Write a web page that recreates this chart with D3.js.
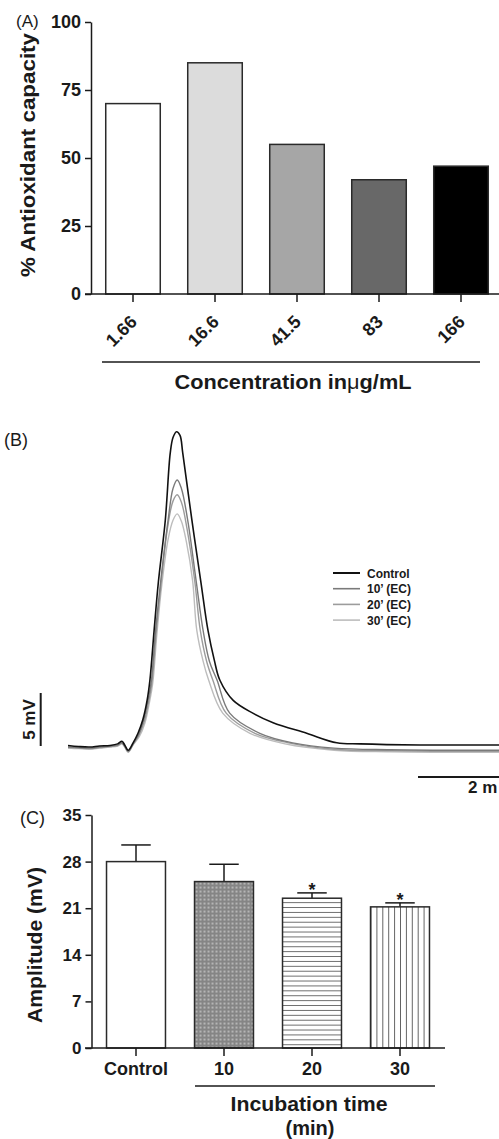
<!DOCTYPE html>
<html>
<head>
<meta charset="utf-8">
<script src="https://cdn.jsdelivr.net/npm/d3@7"></script>
<style>
  body { margin: 0; background: #fff; }
  svg { display: block; font-family: "Liberation Sans", Arial, Helvetica, sans-serif; }
</style>
</head>
<body>
<script>
// ---------- Data ----------
// Panel A
const concLabels = ["1.66", "16.6", "41.5", "83", "166"];
const antioxValues = [70, 85, 55, 42, 47];
const aTicks = [0, 25, 50, 75, 100];

// Panel B traces: [time (ms), voltage (mV)]
const controlTrace = [[0,0.05],[0.15,-0.05],[0.31,-0.1],[0.45,0.0],[0.6,0.05],[0.71,0.2],[0.77,0.45],[0.81,0.1],[0.86,-0.4],[0.93,0.3],[1.0,1.2],[1.07,2.5],[1.13,4.3],[1.17,6.2],[1.23,10.9],[1.29,15.4],[1.39,21.3],[1.46,27.6],[1.50,29.1],[1.55,29.65],[1.60,29.3],[1.64,27.6],[1.77,21.3],[1.90,15.4],[2.00,10.9],[2.09,8.1],[2.17,6.2],[2.36,4.3],[2.64,3.1],[2.93,2.2],[3.41,1.2],[3.84,0.3],[4.17,0.2],[5.03,0.1],[6.2,0.1]];
const ec10Trace = [[0,-0.1],[0.15,-0.15],[0.31,-0.2],[0.45,-0.1],[0.6,0.0],[0.71,0.1],[0.77,0.3],[0.81,0.0],[0.86,-0.5],[0.93,0.2],[1.01,1.1],[1.08,2.4],[1.14,4.2],[1.19,6.1],[1.25,10.8],[1.32,15.3],[1.43,21.3],[1.50,24.3],[1.56,25.1],[1.62,24.3],[1.71,21.3],[1.83,15.6],[1.93,10.9],[2.02,8.0],[2.13,6.2],[2.31,3.1],[2.74,1.2],[3.21,0.3],[3.8,-0.2],[4.6,-0.35],[6.2,-0.4]];
const ec20Trace = [[0,-0.15],[0.15,-0.2],[0.31,-0.25],[0.45,-0.15],[0.6,-0.05],[0.71,0.05],[0.77,0.25],[0.81,-0.05],[0.86,-0.55],[0.93,0.15],[1.01,1.0],[1.09,2.3],[1.15,4.1],[1.20,6.0],[1.26,10.7],[1.33,15.3],[1.42,20.5],[1.50,23.1],[1.56,23.7],[1.62,23.0],[1.70,20.5],[1.81,15.6],[1.89,10.9],[1.98,8.0],[2.07,6.2],[2.26,3.1],[2.67,1.2],[3.15,0.3],[3.8,-0.3],[4.6,-0.45],[6.2,-0.5]];
const ec30Trace = [[0,-0.2],[0.15,-0.25],[0.31,-0.3],[0.45,-0.2],[0.6,-0.1],[0.71,0.0],[0.77,0.2],[0.81,-0.1],[0.86,-0.6],[0.93,0.1],[1.02,0.9],[1.10,2.2],[1.16,4.0],[1.21,5.9],[1.27,10.6],[1.34,15.2],[1.43,19.5],[1.50,21.3],[1.56,21.9],[1.62,21.2],[1.69,19.3],[1.78,15.6],[1.84,10.9],[1.93,8.0],[2.01,6.2],[2.21,3.1],[2.60,1.2],[3.10,0.2],[3.8,-0.4],[4.6,-0.55],[6.2,-0.6]];
const legendLabels = ["Control", "10\u2019 (EC)", "20\u2019 (EC)", "30\u2019 (EC)"];

// Panel C
const timeLabels = ["Control", "10", "20", "30"];
const ampMeans = [28, 25, 22.5, 21.2];
const ampErrors = [2.5, 2.6, 0.8, 0.6];
const ampSignificant = [false, false, true, true];
const cTicks = [0, 7, 14, 21, 28, 35];

// ---------- Styles ----------
const ink = "#1a1a1a";
const barFillsA = ["#ffffff", "#dcdcdc", "#a6a6a6", "#686868", "#000000"];
const traceColors = ["#111111", "#7a7a7a", "#9c9c9c", "#bdbdbd"];
const traceWidths = [1.6, 1.4, 1.4, 1.4];

const svg = d3.select("body").append("svg").attr("width", 499).attr("height", 1139);
const defs = svg.append("defs");

function styleAxis(g, fontSize) {
  g.selectAll("path.domain").attr("stroke", ink).attr("stroke-width", 1.5);
  g.selectAll(".tick line").attr("stroke", ink).attr("stroke-width", 1.5);
  g.selectAll(".tick text").attr("fill", ink).attr("font-size", fontSize)
    .attr("font-weight", "bold").attr("font-family", "Liberation Sans, Arial, sans-serif");
}

// ================= Panel A =================
const xA = d3.scaleBand().domain(concLabels).range([92, 502]).paddingInner(0.335).paddingOuter(0.1675);
const yA = d3.scaleLinear().domain([0, 100]).range([294, 22]);

svg.append("text").attr("x", 16).attr("y", 27).attr("font-size", 17).attr("fill", ink).text("(A)");

svg.append("g").selectAll("rect").data(antioxValues).join("rect")
  .attr("x", (d, i) => xA(concLabels[i]))
  .attr("y", d => yA(d))
  .attr("width", xA.bandwidth())
  .attr("height", d => yA(0) - yA(d))
  .attr("fill", (d, i) => barFillsA[i])
  .attr("stroke", "#2a2a2a").attr("stroke-width", 1.5);

const gAy = svg.append("g").attr("transform", "translate(91,0)")
  .call(d3.axisLeft(yA).tickValues(aTicks).tickSize(6).tickSizeOuter(0).tickPadding(4));
styleAxis(gAy, 18);

const gAx = svg.append("g").attr("transform", `translate(0,${yA(0)})`)
  .call(d3.axisBottom(xA).tickSize(8).tickSizeOuter(0));
gAx.select("path.domain").remove();
styleAxis(gAx, 18);
gAx.selectAll(".tick text")
  .attr("x", 0).attr("y", 0).attr("dy", 0)
  .attr("text-anchor", "end")
  .attr("transform", "translate(5,29) rotate(-45)");
svg.append("line").attr("x1", 85).attr("x2", 502).attr("y1", yA(0)).attr("y2", yA(0))
  .attr("stroke", ink).attr("stroke-width", 1.5);

svg.append("text").attr("transform", "translate(27,155) rotate(-90)")
  .attr("text-anchor", "middle").attr("dominant-baseline", "central")
  .attr("font-size", 21).attr("font-weight", "bold").attr("fill", ink)
  .attr("textLength", 244).attr("lengthAdjust", "spacingAndGlyphs")
  .text("% Antioxidant capacity");

svg.append("line").attr("x1", 102).attr("x2", 480).attr("y1", 362).attr("y2", 362)
  .attr("stroke", ink).attr("stroke-width", 1.5);
const tA = svg.append("text").attr("x", 293).attr("y", 389).attr("text-anchor", "middle")
  .attr("font-size", 20).attr("font-weight", "bold").attr("fill", ink)
  .attr("textLength", 237).attr("lengthAdjust", "spacingAndGlyphs");
tA.append("tspan").text("Concentration in");
tA.append("tspan").attr("font-weight", "normal").text("\u03bc");
tA.append("tspan").text("g/mL");

// ================= Panel B =================
const xT = d3.scaleLinear().domain([0, 6.2]).range([68, 68 + 70 * 6.2]);
const yT = d3.scaleLinear().domain([0, 5]).range([746, 693]);

svg.append("text").attr("x", 4).attr("y", 446).attr("font-size", 18).attr("fill", ink).text("(B)");

const line = d3.line().x(d => xT(d[0])).y(d => yT(d[1])).curve(d3.curveCatmullRom.alpha(0.5));
const traces = [ec30Trace, ec20Trace, ec10Trace, controlTrace];
const traceIdx = [3, 2, 1, 0];
svg.append("g").selectAll("path").data(traces).join("path")
  .attr("d", line)
  .attr("fill", "none")
  .attr("stroke", (d, i) => traceColors[traceIdx[i]])
  .attr("stroke-width", (d, i) => traceWidths[traceIdx[i]])
  .attr("stroke-linejoin", "round");

// legend
const lg = svg.append("g").attr("transform", "translate(333,573)");
const lgItems = lg.selectAll("g").data(legendLabels).join("g")
  .attr("transform", (d, i) => `translate(0,${i * 15.7})`);
lgItems.append("line").attr("x1", 0).attr("x2", 27).attr("y1", 0).attr("y2", 0)
  .attr("stroke", (d, i) => traceColors[i]).attr("stroke-width", (d, i) => i === 0 ? 2 : 1.6);
lgItems.append("text").attr("x", 34).attr("y", 4.5).attr("font-size", 12).attr("font-weight", "bold")
  .attr("fill", ink).text(d => d);

// scale bars
svg.append("line").attr("x1", 40.7).attr("x2", 40.7).attr("y1", yT(0)).attr("y2", yT(5))
  .attr("stroke", ink).attr("stroke-width", 2);
svg.append("text").attr("transform", `translate(29,${(yT(0) + yT(5)) / 2}) rotate(-90)`)
  .attr("text-anchor", "middle").attr("dominant-baseline", "central")
  .attr("font-size", 17).attr("font-weight", "bold").attr("fill", ink).text("5 mV");
svg.append("line").attr("x1", xT(5)).attr("x2", xT(7)).attr("y1", 777).attr("y2", 777)
  .attr("stroke", ink).attr("stroke-width", 2);
svg.append("text").attr("x", 468).attr("y", 793).attr("text-anchor", "start")
  .attr("font-size", 17).attr("font-weight", "bold").attr("fill", ink).text("2 m");

// ================= Panel C =================
const xC = d3.scaleBand().domain(timeLabels).range([92, 444]).paddingInner(0.33).paddingOuter(0.165);
const yC = d3.scaleLinear().domain([0, 35]).range([1048, 815]);

svg.append("text").attr("x", 20).attr("y", 824).attr("font-size", 18).attr("fill", ink).text("(C)");

// patterns
const pDots = defs.append("pattern").attr("id", "pDots").attr("patternUnits", "userSpaceOnUse")
  .attr("x", xC("10")).attr("y", yC(ampMeans[1])).attr("width", 4).attr("height", 4);
pDots.append("rect").attr("width", 4).attr("height", 4).attr("fill", "#858585");
pDots.append("circle").attr("cx", 2).attr("cy", 2).attr("r", 0.8).attr("fill", "#f2f2f2");

const pH = defs.append("pattern").attr("id", "pH").attr("patternUnits", "userSpaceOnUse")
  .attr("x", 0).attr("y", yC(ampMeans[2])).attr("width", 10).attr("height", 4.9);
pH.append("rect").attr("width", 10).attr("height", 4.9).attr("fill", "#fff");
pH.append("line").attr("x1", 0).attr("x2", 10).attr("y1", 4.9).attr("y2", 4.9)
  .attr("stroke", "#222").attr("stroke-width", 1.3);

const pV = defs.append("pattern").attr("id", "pV").attr("patternUnits", "userSpaceOnUse")
  .attr("x", xC("30")).attr("y", 0).attr("width", xC.bandwidth() / 10).attr("height", 10);
pV.append("rect").attr("width", xC.bandwidth() / 10).attr("height", 10).attr("fill", "#fff");
pV.append("line").attr("x1", 0).attr("x2", 0).attr("y1", 0).attr("y2", 10)
  .attr("stroke", "#222").attr("stroke-width", 1.4);

const cFills = ["#ffffff", "url(#pDots)", "url(#pH)", "url(#pV)"];

// error bars
const eg = svg.append("g").attr("stroke", ink).attr("stroke-width", 1.5);
timeLabels.forEach((lab, i) => {
  const cx = xC(lab) + xC.bandwidth() / 2;
  const top = yC(ampMeans[i] + ampErrors[i]);
  eg.append("line").attr("x1", cx).attr("x2", cx).attr("y1", yC(ampMeans[i])).attr("y2", top);
  eg.append("line").attr("x1", cx - xC.bandwidth() / 4).attr("x2", cx + xC.bandwidth() / 4)
    .attr("y1", top).attr("y2", top);
});

svg.append("g").selectAll("rect").data(ampMeans).join("rect")
  .attr("x", (d, i) => xC(timeLabels[i]))
  .attr("y", d => yC(d))
  .attr("width", xC.bandwidth())
  .attr("height", d => yC(0) - yC(d))
  .attr("fill", (d, i) => cFills[i])
  .attr("stroke", "#2a2a2a").attr("stroke-width", 1.5);

const sigIdx = ampMeans.map((d, i) => i).filter(i => ampSignificant[i]);
svg.append("g").selectAll("text").data(sigIdx).join("text")
  .attr("x", i => xC(timeLabels[i]) + xC.bandwidth() / 2)
  .attr("y", i => yC(ampMeans[i] + ampErrors[i]) + 3)
  .attr("text-anchor", "middle").attr("font-size", 18).attr("font-weight", "bold").attr("fill", ink)
  .text("*");

const gCy = svg.append("g").attr("transform", "translate(91.5,0)")
  .call(d3.axisLeft(yC).tickValues(cTicks).tickSize(6).tickSizeOuter(0).tickPadding(4));
styleAxis(gCy, 17);

const gCx = svg.append("g").attr("transform", `translate(0,${yC(0)})`)
  .call(d3.axisBottom(xC).tickSize(8).tickSizeOuter(0).tickPadding(6));
gCx.select("path.domain").remove();
styleAxis(gCx, 18);
svg.append("line").attr("x1", 85).attr("x2", 445).attr("y1", yC(0)).attr("y2", yC(0))
  .attr("stroke", ink).attr("stroke-width", 1.5);

svg.append("text").attr("transform", "translate(35,945) rotate(-90)")
  .attr("text-anchor", "middle").attr("dominant-baseline", "central")
  .attr("font-size", 20).attr("font-weight", "bold").attr("fill", ink)
  .attr("textLength", 156).attr("lengthAdjust", "spacingAndGlyphs")
  .text("Amplitude (mV)");

svg.append("line").attr("x1", 195).attr("x2", 435).attr("y1", 1086).attr("y2", 1086)
  .attr("stroke", ink).attr("stroke-width", 1.5);
svg.append("text").attr("x", 309).attr("y", 1111).attr("text-anchor", "middle")
  .attr("font-size", 20).attr("font-weight", "bold").attr("fill", ink)
  .attr("textLength", 157).attr("lengthAdjust", "spacingAndGlyphs").text("Incubation time");
svg.append("text").attr("x", 310).attr("y", 1135).attr("text-anchor", "middle")
  .attr("font-size", 20).attr("font-weight", "bold").attr("fill", ink).text("(min)");
</script>
</body>
</html>
